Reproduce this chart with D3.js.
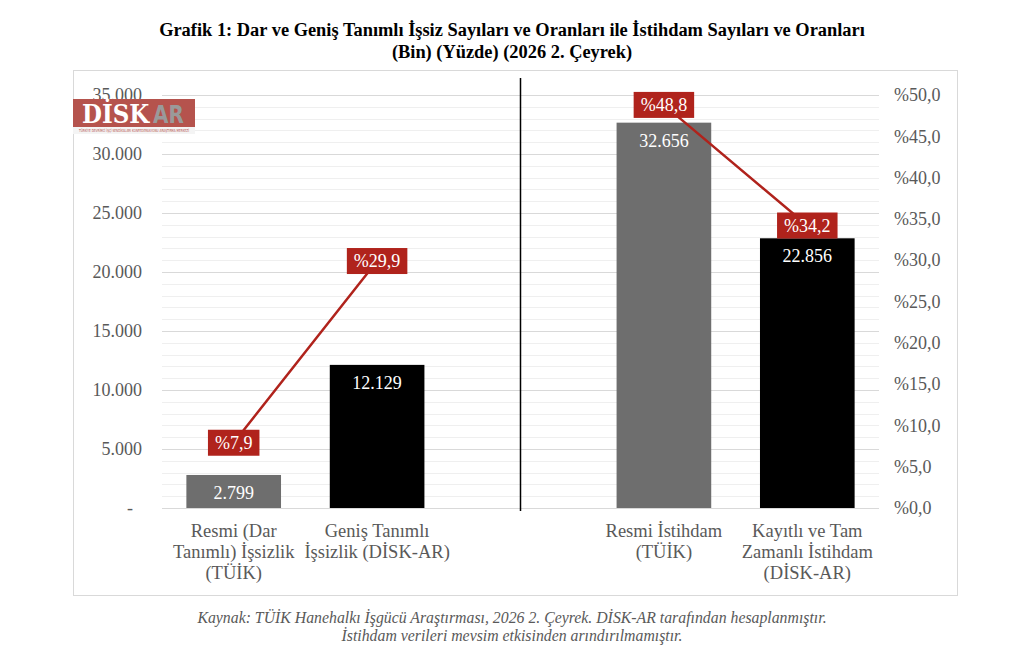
<!DOCTYPE html>
<html>
<head>
<meta charset="utf-8">
<script src="https://cdn.jsdelivr.net/npm/d3@7"></script>
<style>
  body { margin: 0; background: #fff; }
  text { font-family: "Liberation Serif", "DejaVu Serif", serif; }
</style>
</head>
<body>
<div id="chart"></div>
<script>
// data
var categories = ["resmiIssiz", "genisIssiz", "bosluk", "resmiIstihdam", "kayitliIstihdam"];
var categoryLabels = [
  ["Resmi (Dar", "Tanımlı) İşsizlik", "(TÜİK)"],
  ["Geniş Tanımlı", "İşsizlik (DİSK-AR)"],
  [],
  ["Resmi İstihdam", "(TÜİK)"],
  ["Kayıtlı ve Tam", "Zamanlı İstihdam", "(DİSK-AR)"]
];
var values = [2799, 12129, null, 32656, 22856];   // bin kişi
var rates = [7.9, 29.9, null, 48.8, 34.2];        // yüzde
var leftTicks = [0, 5000, 10000, 15000, 20000, 25000, 30000, 35000];
var rightTicks = [0, 5, 10, 15, 20, 25, 30, 35, 40, 45, 50];
var titleLines = [
  "Grafik 1: Dar ve Geniş Tanımlı İşsiz Sayıları ve Oranları ile İstihdam Sayıları ve Oranları",
  "(Bin) (Yüzde) (2026 2. Çeyrek)"
];
var noteLines = [
  "Kaynak: TÜİK Hanehalkı İşgücü Araştırması, 2026 2. Çeyrek. DİSK-AR tarafından hesaplanmıştır.",
  "İstihdam verileri mevsim etkisinden arındırılmamıştır."
];

var width = 1024;
var height = 657;
var plot = {left: 162, right: 879, top: 95, bottom: 508};
var barColors = ["#6e6e6e", "#000000", "none", "#6e6e6e", "#000000"];
var red = "#b0231c";
var axisGray = "#595959";

var fmtNum = function(v) { return d3.format(",")(v).replace(/,/g, "."); };
var fmtPct = function(v) { return "%" + d3.format(".1f")(v).replace(".", ","); };

var svg = d3.select("#chart")
  .append("svg")
    .attr("width", width)
    .attr("height", height);

var x = d3.scaleBand()
  .domain(categories)
  .range([plot.left, plot.right])
  .paddingInner(0.34)
  .paddingOuter(0.17);

var y = d3.scaleLinear().domain([0, 35000]).range([plot.bottom, plot.top]);
var y2 = d3.scaleLinear().domain([0, 50]).range([plot.bottom, plot.top]);

// chart frame
svg.append("rect")
  .attr("x", 73.5).attr("y", 70.5)
  .attr("width", 884).attr("height", 525)
  .attr("fill", "none")
  .attr("stroke", "#d9d9d9");

// title
svg.selectAll(".title")
  .data(titleLines)
  .enter()
    .append("text")
      .attr("class", "title")
      .attr("x", width / 2)
      .attr("y", function(d, i) { return 36 + i * 22; })
      .attr("text-anchor", "middle")
      .style("font-size", "18.4px")
      .style("font-weight", "bold")
      .text(function(d) { return d; });

// gridlines: minor every 1000, major every 5000
var minor = d3.range(1000, 35001, 1000);
svg.append("g")
  .selectAll("line")
  .data(minor)
  .enter()
    .append("line")
      .attr("x1", plot.left).attr("x2", plot.right)
      .attr("y1", function(d) { return Math.round(y(d)) + 0.5; })
      .attr("y2", function(d) { return Math.round(y(d)) + 0.5; })
      .attr("stroke", function(d) { return d % 5000 === 0 ? "#d9d9d9" : "#efefef"; })
      .attr("stroke-width", 1);

// left axis
var leftAxis = d3.axisLeft(y)
  .tickValues(leftTicks)
  .tickSize(0)
  .tickPadding(20)
  .tickFormat(function(d) { return d === 0 ? "-" : fmtNum(d); });

var gl = svg.append("g")
  .attr("transform", "translate(" + plot.left + ",0)")
  .call(leftAxis);
gl.select(".domain").remove();
gl.selectAll("text")
  .attr("fill", axisGray)
  .style("font-size", "18px")
  .style("font-family", "Liberation Serif")
  .attr("dx", function(d) { return d === 0 ? "-9" : "0"; });

// right axis
var rightAxis = d3.axisRight(y2)
  .tickValues(rightTicks)
  .tickSize(0)
  .tickPadding(15)
  .tickFormat(fmtPct);

var gr = svg.append("g")
  .attr("transform", "translate(" + plot.right + ",0)")
  .call(rightAxis);
gr.select(".domain").remove();
gr.selectAll("text")
  .attr("fill", axisGray)
  .style("font-size", "18px")
  .style("font-family", "Liberation Serif");

// baseline
svg.append("line")
  .attr("x1", plot.left).attr("x2", plot.right)
  .attr("y1", plot.bottom + 0.5).attr("y2", plot.bottom + 0.5)
  .attr("stroke", "#d9d9d9");

// bars
var barData = categories.map(function(c, i) { return {cat: c, value: values[i], rate: rates[i], i: i}; })
  .filter(function(d) { return d.value !== null; });

svg.selectAll(".bar")
  .data(barData)
  .enter()
    .append("rect")
      .attr("class", "bar")
      .attr("x", function(d) { return x(d.cat); })
      .attr("width", x.bandwidth())
      .attr("y", function(d) { return y(d.value); })
      .attr("height", function(d) { return plot.bottom - y(d.value); })
      .attr("fill", function(d) { return barColors[d.i]; });

svg.selectAll(".vlabel")
  .data(barData)
  .enter()
    .append("text")
      .attr("class", "vlabel")
      .attr("x", function(d) { return x(d.cat) + x.bandwidth() / 2; })
      .attr("y", function(d) { return y(d.value) + 24; })
      .attr("text-anchor", "middle")
      .attr("fill", "#ffffff")
      .style("font-size", "18px")
      .text(function(d) { return fmtNum(d.value); });

// middle divider
svg.append("line")
  .attr("x1", x("bosluk") + x.bandwidth() / 2)
  .attr("x2", x("bosluk") + x.bandwidth() / 2)
  .attr("y1", 78).attr("y2", 511)
  .attr("stroke", "#000")
  .attr("stroke-width", 1.5);

// rate line (gap at the empty category)
var line = d3.line()
  .defined(function(d) { return d.rate !== null; })
  .x(function(d) { return x(d.cat) + x.bandwidth() / 2; })
  .y(function(d) { return y2(d.rate); });

svg.append("path")
  .datum(categories.map(function(c, i) { return {cat: c, rate: rates[i]}; }))
  .attr("d", line)
  .attr("fill", "none")
  .attr("stroke", red)
  .attr("stroke-width", 2.5);

// rate labels
var rl = svg.selectAll(".rlabel")
  .data(barData)
  .enter()
    .append("g")
      .attr("class", "rlabel")
      .attr("transform", function(d) {
        return "translate(" + (x(d.cat) + x.bandwidth() / 2) + "," + y2(d.rate) + ")";
      });

rl.append("text")
  .attr("text-anchor", "middle")
  .attr("y", 6)
  .attr("fill", "#ffffff")
  .style("font-size", "18px")
  .text(function(d) { return fmtPct(d.rate); });

rl.each(function() {
  var g = d3.select(this);
  var b = g.select("text").node().getBBox();
  g.insert("rect", "text")
    .attr("x", b.x - 7)
    .attr("y", -13)
    .attr("width", b.width + 14)
    .attr("height", 26)
    .attr("fill", red);
});

// category labels
var cl = svg.selectAll(".clabel")
  .data(categories.map(function(c, i) { return {cat: c, lines: categoryLabels[i]}; }))
  .enter()
    .append("text")
      .attr("class", "clabel")
      .attr("text-anchor", "middle")
      .attr("fill", axisGray)
      .style("font-size", "18.5px");

cl.selectAll("tspan")
  .data(function(d) { return d.lines.map(function(l) { return {cat: d.cat, t: l}; }); })
  .enter()
    .append("tspan")
      .attr("x", function(d) { return x(d.cat) + x.bandwidth() / 2; })
      .attr("y", function(d, i) { return 537 + i * 21; })
      .text(function(d) { return d.t; });

// logo
var logo = svg.append("g").attr("transform", "translate(73,99)");
logo.append("rect").attr("width", 122).attr("height", 28).attr("fill", "#b5534d");
logo.append("rect").attr("y", 28).attr("width", 122).attr("height", 7).attr("fill", "#f4f4f4");
logo.append("text")
  .attr("transform", "translate(9,24) scale(1,1.15)")
  .attr("fill", "#ffffff")
  .style("font-family", "DejaVu Serif")
  .style("font-weight", "bold")
  .style("font-size", "23px")
  .text("DİSK");
logo.append("text")
  .attr("transform", "translate(80,24) scale(1,1.25)")
  .attr("fill", "#9a9a9a")
  .style("font-family", "DejaVu Sans")
  .style("font-weight", "bold")
  .style("font-size", "20px")
  .text("AR");
logo.append("text")
  .attr("x", 6).attr("y", 33.3)
  .attr("textLength", 110)
  .attr("lengthAdjust", "spacingAndGlyphs")
  .attr("fill", "#b5534d")
  .style("font-family", "DejaVu Sans")
  .style("font-size", "4px")
  .text("TÜRKİYE DEVRİMCİ İŞÇİ SENDİKALARI KONFEDERASYONU ARAŞTIRMA MERKEZİ");

// note
svg.selectAll(".note")
  .data(noteLines)
  .enter()
    .append("text")
      .attr("class", "note")
      .attr("x", width / 2)
      .attr("y", function(d, i) { return 623 + i * 18; })
      .attr("text-anchor", "middle")
      .attr("fill", axisGray)
      .style("font-size", "15.8px")
      .style("font-style", "italic")
      .text(function(d) { return d; });
</script>
</body>
</html>
